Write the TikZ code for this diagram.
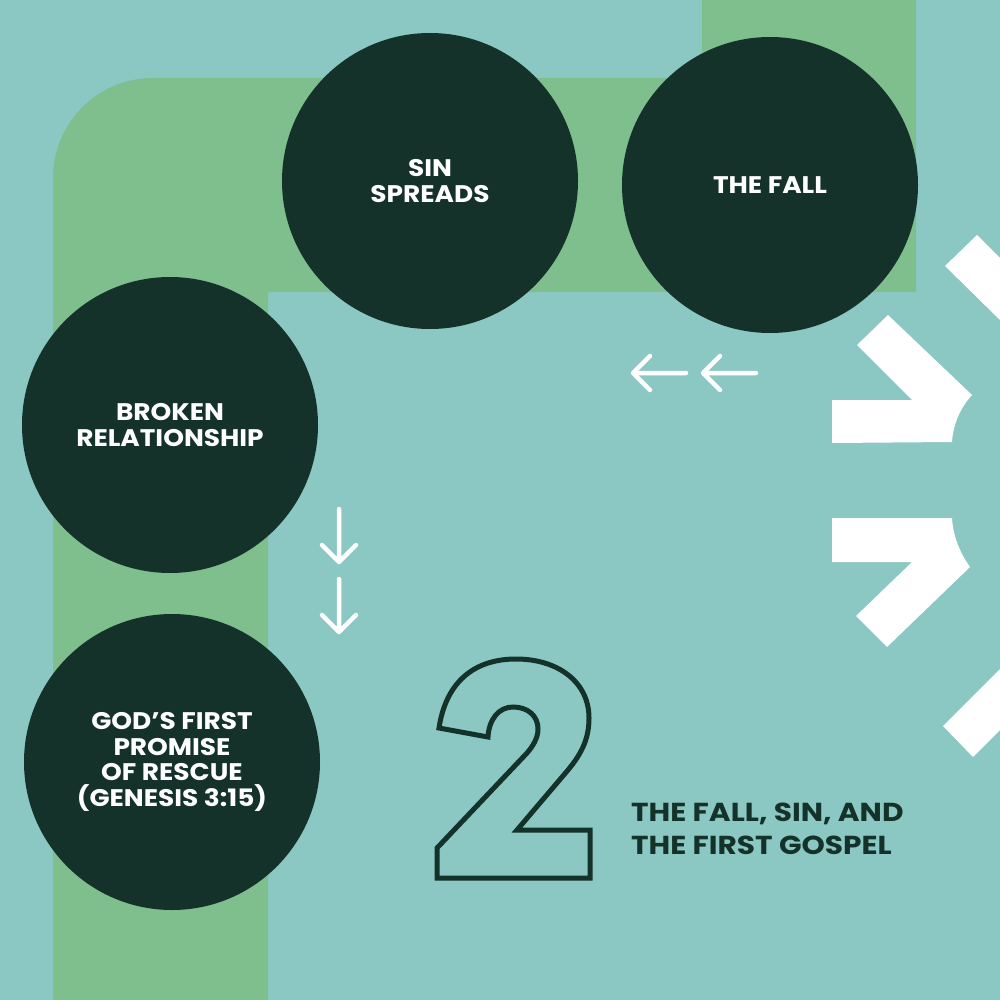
\documentclass[tikz,border=0pt]{standalone}
\usepackage{fontspec}
\setmainfont{Poppins}
\newfontfamily\circfont{Poppins}[FakeStretch=1.1]
\newfontfamily\titlefont{Poppins}[FakeStretch=1.14]
\definecolor{bgteal}{HTML}{8BC8C3}
\definecolor{pathgreen}{HTML}{7FBF8E}
\definecolor{darkgreen}{HTML}{14322A}
\tikzset{
  circ/.style={circle, fill=darkgreen, minimum size=296pt, inner sep=0pt, text=white, align=center, font=\circfont\fontsize{24}{25.5}\selectfont\bfseries},
  flowarrow/.style={draw=white, line width=4.5pt, line cap=round, line join=round},
  chev/.style={fill=white, draw=none},
}
\begin{document}
\begin{tikzpicture}[x=1pt,y=-1pt]
\fill[bgteal] (0,0) rectangle (1000,1000);
\useasboundingbox (0,0) rectangle (1000,1000);
% green path
\fill[pathgreen] (53,1000) -- (53,178) arc[start angle=180,end angle=270,radius=100] -- (702,78) -- (702,0) -- (916,0) -- (916,292) -- (268,292) -- (268,1000) -- cycle;
% circles
\node[circ] (sin) at (430,181) {SIN\\SPREADS};
\node[circ] (fall) at (770,185) {THE FALL};
\node[circ] (broken) at (170,425) {BROKEN\\RELATIONSHIP};
\node[circ] (promise) at (172,762) {GOD’S FIRST\\PROMISE\\OF RESCUE\\(GENESIS 3:15)};
% arrows
\coordinate (la1s) at (686,373); \coordinate (la1e) at (633,373);
\coordinate (la2s) at (756,373); \coordinate (la2e) at (703,373);
\draw[flowarrow] (la1s) -- (la1e) (la1e) ++(17,-17) -- (la1e) -- ++(17,17);
\draw[flowarrow] (la2s) -- (la2e) (la2e) ++(17,-17) -- (la2e) -- ++(17,17);
\coordinate (da1s) at (339,509); \coordinate (da1e) at (339,562);
\coordinate (da2s) at (339,579); \coordinate (da2e) at (339,632);
\draw[flowarrow] (da1s) -- (da1e) (da1e) ++(-17,-17) -- (da1e) -- ++(17,-17);
\draw[flowarrow] (da2s) -- (da2e) (da2e) ++(-17,-17) -- (da2e) -- ++(17,-17);
% chevrons
\fill[chev] (857,345) -- (888,315) -- (972,395) .. controls (960,408) and (953,425) .. (952,442) -- (832,443) -- (832,400) -- (912,400) -- cycle;
\fill[chev] (832,518) -- (952,518) .. controls (953,536) and (960,553) .. (970,567) -- (887,647) -- (856,616) -- (912,562) -- (832,562) -- cycle;
\fill[chev] (945,266) -- (977,235) -- (1000,258) -- (1000,320) -- cycle;
\fill[chev] (943,726) -- (1000,669) -- (1000,730) -- (973,757) -- cycle;
% number 2
\draw[darkgreen, line width=5pt, line join=miter] (437,848) -- (437,878) -- (590,878) -- (590,830) -- (517,830) -- (568,770) .. controls (583,752) and (589,737) .. (589,718) .. controls (589,682) and (558,659) .. (516,659) .. controls (474,659) and (446,682) .. (439,728) -- (488,737) .. controls (489,719) and (499,707) .. (513,707) .. controls (528,707) and (538,716) .. (538,729) .. controls (538,738) and (533,746) .. (527,753) -- cycle;
% title
\node[anchor=north west, inner sep=0pt, align=left, text=darkgreen, font=\titlefont\fontsize{26}{33}\selectfont\bfseries] (title) at (631,803) {THE FALL, SIN, AND\\THE FIRST GOSPEL};
\end{tikzpicture}
\end{document}
